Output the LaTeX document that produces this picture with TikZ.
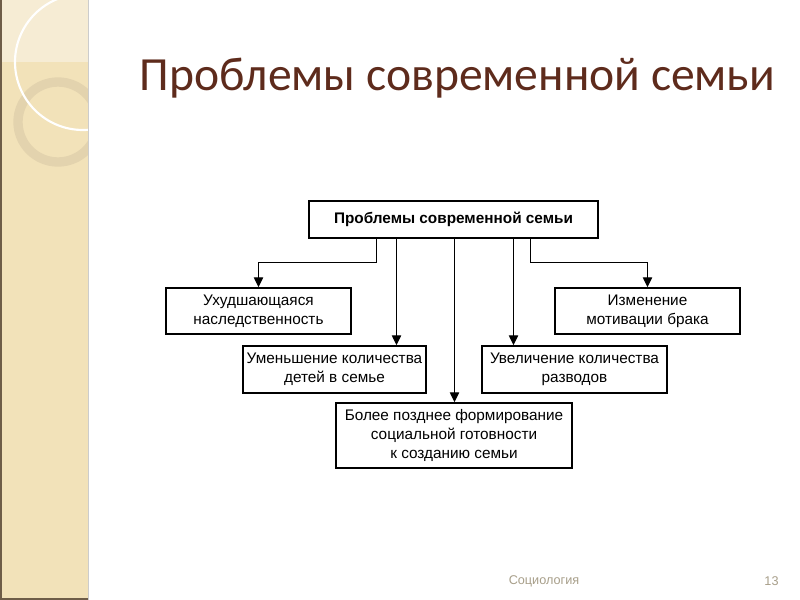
\documentclass[tikz,border=0pt]{standalone}
\usepackage{fontspec}
\setmainfont{Liberation Sans}
\newfontfamily\titlefont{Carlito}
\usetikzlibrary{arrows.meta}
\definecolor{band}{HTML}{F2E2B9}
\definecolor{bandlight}{HTML}{F6ECD4}
\definecolor{bandedge}{HTML}{6E5D48}
\definecolor{ringcol}{HTML}{E3D3AE}
\definecolor{titlecol}{HTML}{5E2B1C}
\definecolor{footcol}{HTML}{A89F8A}
\tikzset{
  box/.style={draw=black, line width=1.1pt, fill=white, inner sep=0pt, align=center,
    font=\fontsize{11.5}{14}\selectfont},
  conn/.style={line width=1pt, -{Triangle[length=7.5pt,width=7pt]}},
}
\begin{document}
\begin{tikzpicture}[x=0.75pt,y=-0.75pt]
\useasboundingbox (0,0) rectangle (800,600);
\fill[white] (0,0) rectangle (800,600);
% left band
\begin{scope}
\clip (0,0) rectangle (88,600);
\fill[band] (0,0) rectangle (88,600);
\fill[bandlight] (0,0) rectangle (88,62);
\draw[ringcol, line width=7pt] (58,122) circle[radius=40];
\draw[white, line width=1.6pt] (83,62) circle[radius=68];
\draw[bandedge, line width=1.5pt] (0.7,0) -- (0.7,600);
\draw[bandedge, line width=1.5pt] (0,599.3) -- (88,599.3);
\end{scope}
\draw[black!20, line width=0.8pt] (88.5,0) -- (88.5,600);
% title
\node[font=\titlefont\fontsize{35.7}{40}\selectfont, text=titlecol, anchor=base west] (title) at (135,90) {Проблемы современной семьи};
% boxes
\node[box, minimum width={289*0.75pt}, minimum height={37*0.75pt}, font=\bfseries\fontsize{11.5}{14}\selectfont] (top) at (453.5,219.5) {Проблемы современной семьи};
\node[box, minimum width={185*0.75pt}, minimum height={46*0.75pt}] (b1) at (258.5,311) {Ухудшающаяся\\наследственность};
\node[box, minimum width={185*0.75pt}, minimum height={46*0.75pt}] (b3) at (647.5,311) {Изменение\\мотивации брака};
\node[box, minimum width={183*0.75pt}, minimum height={47*0.75pt}] (b2) at (334.5,369.5) {Уменьшение количества\\детей в семье};
\node[box, minimum width={185*0.75pt}, minimum height={47*0.75pt}] (b4) at (574.5,369.5) {Увеличение количества\\разводов};
\node[box, minimum width={236*0.75pt}, minimum height={65*0.75pt}] (b5) at (454,435.5) {Более позднее формирование\\социальной готовности\\к созданию семьи};
% connectors
\coordinate (k1) at (376.5,262.5);
\coordinate (k2) at (530.5,262.5);
\coordinate (c2) at (396.5,0);
\coordinate (c4) at (513.5,0);
\coordinate (c5) at (454.5,0);
\draw[conn] (top.south -| k1) |- (k1) -| (b1.north);
\draw[conn] (top.south -| k2) |- (k2) -| (b3.north);
\draw[conn] (top.south -| c2) -- (b2.north -| c2);
\draw[conn] (top.south -| c4) -- (b4.north -| c4);
\draw[conn] (top.south -| c5) -- (b5.north -| c5);
% footer
\node[text=footcol, font=\fontsize{9.5}{11}\selectfont] (foot) at (544,581) {Социология};
\node[text=footcol, font=\fontsize{9.5}{11}\selectfont] (num) at (771.5,581) {13};
\end{tikzpicture}
\end{document}
